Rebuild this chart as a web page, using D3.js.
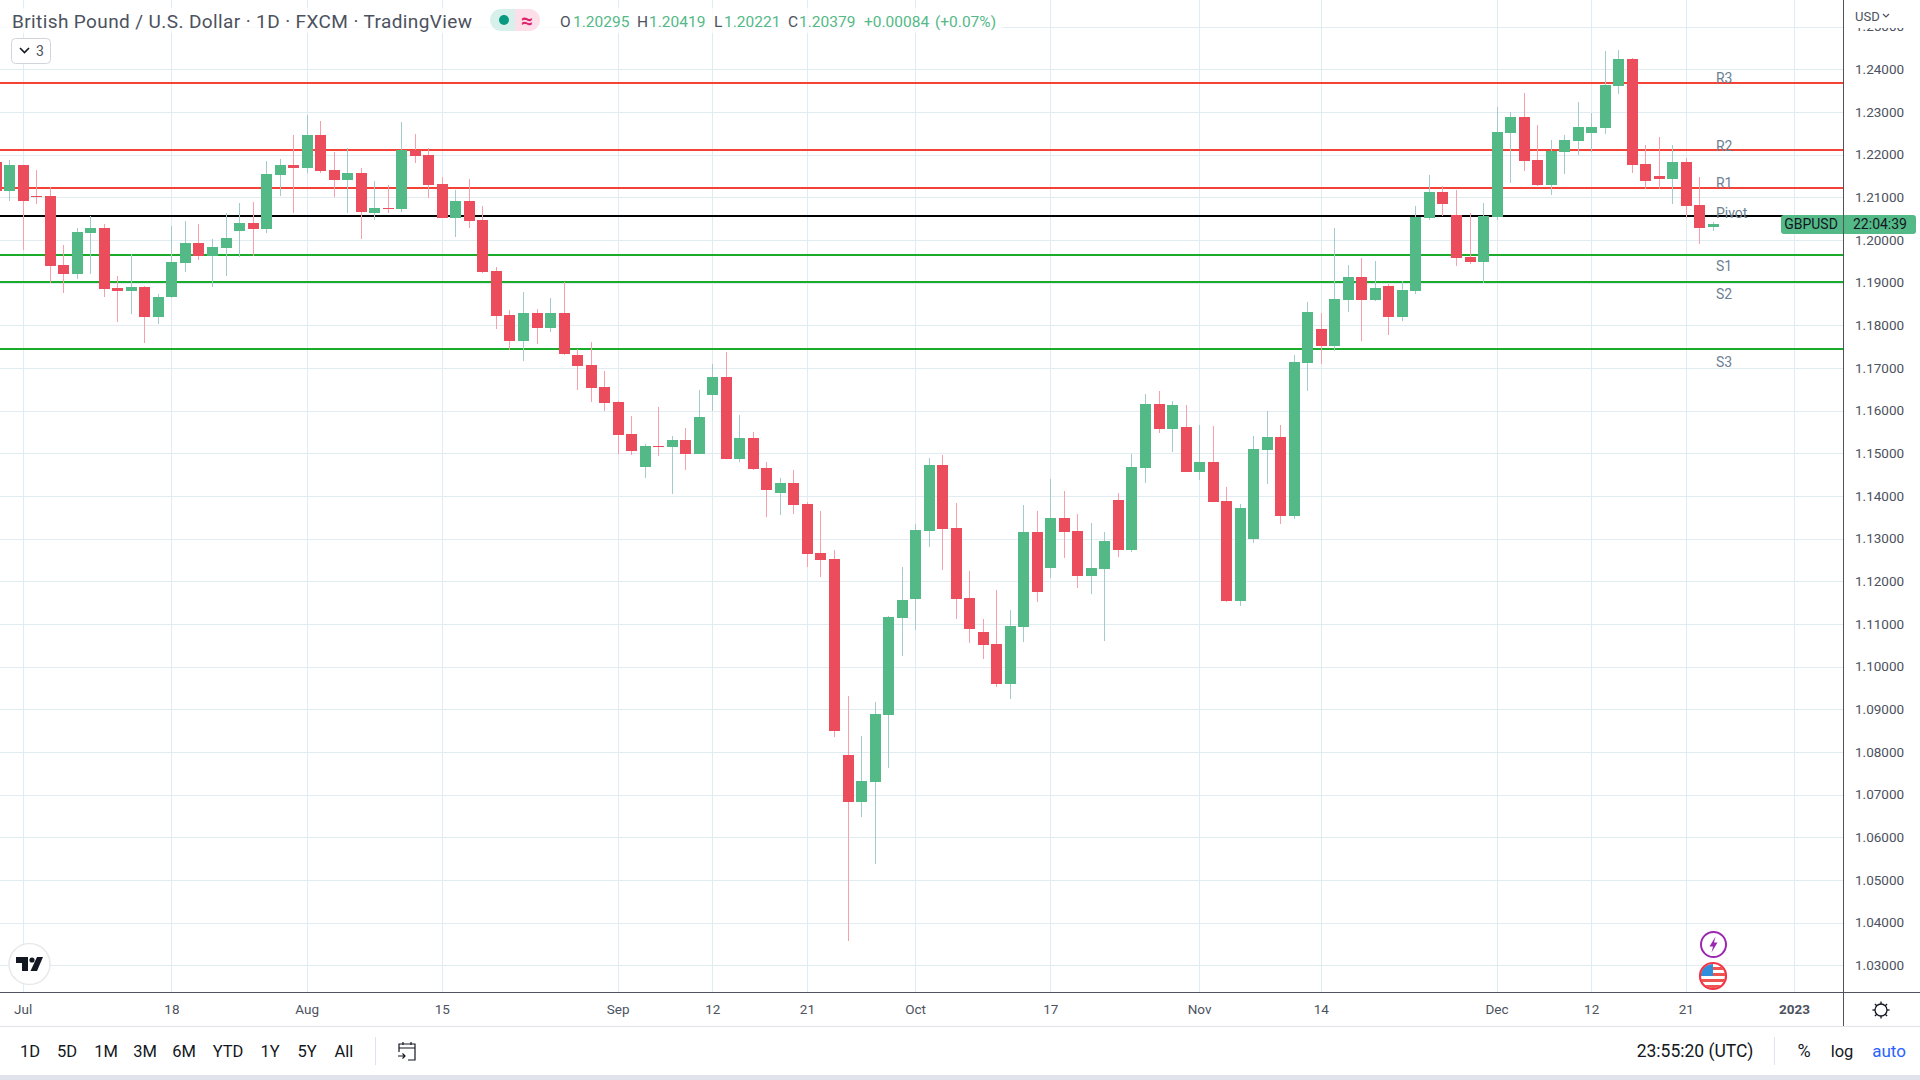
<!DOCTYPE html>
<html><head><meta charset="utf-8">
<script src="https://cdn.jsdelivr.net/npm/d3@7/dist/d3.min.js"></script>
<style>
html,body{margin:0;padding:0;background:#fff;overflow:hidden}
svg{display:block;font-family:Roboto,"Noto Sans",sans-serif}
</style></head><body>
<svg id="c" width="1920" height="1080"></svg>
<script>
// First candle is two sessions before the "Jul" tick; one candle per weekday.
const firstIndex = -2;
const opens = [1.2182,1.21156,1.21758,1.21023,1.21031,1.19414,1.19203,1.20164,1.20281,1.18875,
1.18805,1.18898,1.18195,1.18664,1.19461,1.1993,1.19625,1.19812,1.20211,1.20398,
1.20258,1.21523,1.21758,1.21687,1.22461,1.21641,1.21406,1.2157,1.20633,1.2075,
1.20727,1.22109,1.21992,1.21312,1.20516,1.20914,1.20469,1.19273,1.18242,1.17633,
1.18289,1.17937,1.18289,1.17305,1.1707,1.16555,1.16203,1.15453,1.1468,1.15172,
1.15148,1.15312,1.14984,1.16367,1.16789,1.14867,1.15359,1.14656,1.1407,1.14305,
1.13812,1.12664,1.12523,1.0793,1.06828,1.07297,1.08867,1.11141,1.11586,1.1318,
1.14727,1.1325,1.11609,1.10812,1.10531,1.09594,1.1093,1.13156,1.12312,1.13484,
1.1318,1.12125,1.12289,1.13906,1.12734,1.14656,1.16156,1.1557,1.15617,1.14562,
1.14797,1.13883,1.11539,1.12992,1.15078,1.15383,1.13531,1.17117,1.17914,1.17516,
1.18594,1.19133,1.18594,1.18922,1.18195,1.18805,1.20516,1.21125,1.20586,1.19602,
1.19484,1.20539,1.22508,1.22883,1.21875,1.21289,1.22062,1.2232,1.22508,1.22625,
1.23609,1.24242,1.21781,1.215,1.2143,1.21828,1.2082,1.20295];
const highs = [1.21914,1.21875,1.21758,1.21641,1.21242,1.19883,1.20273,1.20555,1.20375,1.19156,
1.19672,1.18922,1.18734,1.20328,1.20445,1.20375,1.20023,1.20633,1.20867,1.20891,
1.21852,1.21898,1.22461,1.2293,1.22789,1.22062,1.22156,1.21687,1.21383,1.21289,
1.22766,1.22484,1.22156,1.21477,1.21172,1.2143,1.20797,1.19367,1.18359,1.18781,
1.18383,1.18641,1.19016,1.17445,1.17609,1.1693,1.16227,1.15875,1.15219,1.16086,
1.15406,1.15594,1.16484,1.17094,1.17375,1.15898,1.155,1.14797,1.14422,1.14609,
1.13859,1.13648,1.12734,1.09312,1.08375,1.09172,1.11187,1.12336,1.13344,1.14891,
1.14961,1.13836,1.12242,1.11117,1.11797,1.11328,1.13789,1.13648,1.14398,1.14117,
1.13578,1.13367,1.13156,1.1407,1.14984,1.16391,1.16461,1.16227,1.16133,1.15664,
1.15641,1.14211,1.13812,1.15406,1.15992,1.15664,1.17305,1.18547,1.18289,1.20281,
1.19414,1.19578,1.19508,1.18969,1.19039,1.20797,1.21523,1.21266,1.21172,1.20633,
1.20867,1.23117,1.23,1.23445,1.22695,1.22344,1.22461,1.23234,1.22977,1.2443,
1.24453,1.24266,1.22227,1.22414,1.22227,1.21922,1.21477,1.20419];
const lows = [1.20938,1.20922,1.19773,1.20852,1.18992,1.18766,1.19094,1.19203,1.18672,1.18086,
1.18273,1.17594,1.18039,1.18633,1.1925,1.19531,1.18906,1.19156,1.19602,1.19625,
1.20164,1.21031,1.20633,1.2157,1.2157,1.21008,1.20633,1.20023,1.20469,1.20633,
1.20656,1.21805,1.20984,1.20516,1.2007,1.20281,1.19227,1.17914,1.17422,1.17164,
1.17562,1.17844,1.17305,1.16484,1.16203,1.15992,1.14984,1.14961,1.14422,1.14937,
1.14047,1.14609,1.14984,1.15992,1.14867,1.14797,1.14609,1.13508,1.13555,1.13578,
1.12336,1.12102,1.08352,1.03578,1.06477,1.05375,1.07625,1.1025,1.10859,1.12805,
1.12266,1.11117,1.10555,1.1018,1.09523,1.09242,1.10578,1.11516,1.12078,1.12547,
1.11844,1.11703,1.10602,1.1257,1.12687,1.14305,1.15477,1.15031,1.14562,1.14375,
1.13859,1.11516,1.11422,1.12898,1.14281,1.13344,1.13461,1.16461,1.17094,1.17398,
1.18312,1.17633,1.1857,1.17773,1.18102,1.18734,1.20469,1.20562,1.19391,1.19437,
1.18992,1.20469,1.21336,1.21617,1.21266,1.21055,1.21547,1.21992,1.22062,1.22484,
1.23422,1.2157,1.21195,1.21195,1.20844,1.20516,1.19906,1.20221];
const closes = [1.21156,1.21758,1.20914,1.21008,1.19398,1.19203,1.20187,1.20281,1.18852,1.18805,
1.18898,1.18195,1.18664,1.19484,1.1993,1.19625,1.19836,1.20047,1.20398,1.20258,
1.21547,1.21758,1.21687,1.22461,1.21617,1.21406,1.2157,1.20656,1.2075,1.20727,
1.22109,1.21969,1.21289,1.20516,1.20914,1.20445,1.1925,1.18219,1.17633,1.18289,
1.17937,1.18289,1.17328,1.17047,1.16531,1.1618,1.1543,1.15055,1.15172,1.15148,
1.15312,1.14984,1.15852,1.16789,1.14867,1.15359,1.14633,1.14141,1.14305,1.13789,
1.12641,1.125,1.08492,1.06828,1.0732,1.08891,1.11164,1.11562,1.13203,1.14727,
1.13227,1.11586,1.10883,1.10508,1.09594,1.10953,1.13156,1.1175,1.13484,1.13156,
1.12125,1.12312,1.12945,1.12734,1.1468,1.16156,1.1557,1.16133,1.14562,1.14797,
1.13859,1.11539,1.13719,1.15102,1.15383,1.13531,1.17141,1.18312,1.17516,1.18617,
1.19133,1.18594,1.18875,1.18195,1.18828,1.20539,1.21125,1.20844,1.19578,1.19484,
1.20562,1.22531,1.22883,1.21852,1.21289,1.22086,1.22344,1.22648,1.22648,1.23633,
1.24242,1.21758,1.21383,1.2143,1.21828,1.20797,1.20281,1.20379];

const priceTicks = [1.25,1.24,1.23,1.22,1.21,1.20,1.19,1.18,1.17,1.16,1.15,1.14,1.13,1.12,1.11,1.10,1.09,1.08,1.07,1.06,1.05,1.04,1.03];
const timeTickIndex = [0,11,21,31,44,51,58,66,76,87,96,109,116,123,131];
const timeTickLabels = ["Jul","18","Aug","15","Sep","12","21","Oct","17","Nov","14","Dec","12","21","2023"];
const levelNames = ["R3","R2","R1","Pivot","S1","S2","S3"];
const levelValues = [1.2368,1.22109,1.21219,1.20562,1.19648,1.19016,1.17445];
const rangeButtons = ["1D","5D","1M","3M","6M","YTD","1Y","5Y","All"];
const legendValues = ["1.20295","1.20419","1.20221","1.20379","+0.00084","(+0.07%)"];

// ---- layout / style
const W=1920, paneR=1843, paneB=992;
const UP="#53b987", DOWN="#eb4d5c", WUP="#a3cbcb", WDOWN="#f7a0ab", GRID="#e1ecf2", TXT="#4c525e", DARK="#131722";
const FS=13.5;
const levelColor=n=>n[0]==="R"?"#f44336":n[0]==="S"?"#1aab2b":"#000";
const levelLabelDy={R3:-5,R2:-4,R1:-5,Pivot:-3,S1:11,S2:12,S3:13};

const svg=d3.select("#c");
const x=d3.scaleLinear().domain([0,125]).range([22.7,1712.9]);
const y=d3.scaleLinear().domain([1.24,1.03]).range([69.3,965.3]);
const px=v=>Math.round(x(v)), py=v=>Math.round(y(v));

svg.append("defs").append("clipPath").attr("id","pane").append("rect")
  .attr("width",paneR).attr("height",paneB);
const pane=svg.append("g").attr("clip-path","url(#pane)");

// gridlines
pane.append("g").selectAll("line").data(timeTickIndex).join("line")
  .attr("x1",d=>px(d)+.5).attr("x2",d=>px(d)+.5).attr("y1",0).attr("y2",paneB)
  .attr("stroke",GRID);
pane.append("g").selectAll("line").data(priceTicks).join("line")
  .attr("x1",0).attr("x2",paneR).attr("y1",d=>py(d)+.5).attr("y2",d=>py(d)+.5)
  .attr("stroke",GRID);

// pivot levels
pane.append("g").selectAll("line").data(levelValues).join("line")
  .attr("x1",0).attr("x2",paneR).attr("y1",d=>py(d)).attr("y2",d=>py(d))
  .attr("stroke",(d,i)=>levelColor(levelNames[i])).attr("stroke-width",2)
  .attr("shape-rendering","crispEdges");

// candles
const candles=opens.map((o,i)=>({i:i+firstIndex,o,h:highs[i],l:lows[i],c:closes[i]}));
const cg=pane.append("g").attr("shape-rendering","crispEdges");
cg.selectAll("line").data(candles).join("line")
  .attr("x1",d=>px(d.i)+.5).attr("x2",d=>px(d.i)+.5)
  .attr("y1",d=>py(d.h)).attr("y2",d=>py(d.l))
  .attr("stroke",d=>d.c>=d.o?WUP:WDOWN);
cg.selectAll("rect").data(candles).join("rect")
  .attr("x",d=>px(d.i)-5).attr("width",11)
  .attr("y",d=>py(Math.max(d.o,d.c)))
  .attr("height",d=>Math.max(1,py(Math.min(d.o,d.c))-py(Math.max(d.o,d.c))))
  .attr("fill",d=>d.c>=d.o?UP:DOWN);

// level labels
pane.append("g").selectAll("text").data(levelNames).join("text")
  .attr("x",x(125)+3).attr("y",(d,i)=>y(levelValues[i])+levelLabelDy[d])
  .attr("dy",".35em").attr("fill","#6d7f93").attr("font-size",14).text(d=>d);

// ---- legend
svg.append("rect").attr("x",0).attr("y",8).attr("width",1003).attr("height",25).attr("fill","#fff").attr("opacity",.75);
svg.append("text").attr("x",12).attr("y",28).attr("font-size",19).attr("fill",TXT)
  .attr("textLength",460).attr("lengthAdjust","spacing")
  .text("British Pound / U.S. Dollar · 1D · FXCM · TradingView");
svg.append("path").attr("d","M501 9a11 11 0 0 0 0 22h14V9z").attr("fill","#d8f0ec");
svg.append("path").attr("d","M515 9h14a11 11 0 0 1 0 22h-14z").attr("fill","#fcdfe8");
svg.append("circle").attr("cx",504).attr("cy",20).attr("r",5).attr("fill","#089981");
svg.append("text").attr("x",527).attr("y",20).attr("dy",".36em").attr("text-anchor","middle").attr("font-size",21).attr("font-weight",700).attr("fill","#e0246b").text("≈");
const legLetters=["O","H","L","C",null,null];
const legLetterX=[560,637,714,788];
const legValX=[573,649,724,799,864,935];
legendValues.forEach((v,i)=>{
  if(legLetters[i]) svg.append("text").attr("x",legLetterX[i]).attr("y",27).attr("font-size",15.5).attr("fill",TXT).text(legLetters[i]);
  svg.append("text").attr("x",legValX[i]).attr("y",27).attr("font-size",15.5).attr("fill",UP).text(v);
});
// collapse button
svg.append("rect").attr("x",11.5).attr("y",38.5).attr("width",39).attr("height",25).attr("rx",4).attr("fill","#fff").attr("stroke","#d1d4dc");
svg.append("path").attr("d","M20 48l4.5 4.5 4.5-4.5").attr("fill","none").attr("stroke",DARK).attr("stroke-width",1.6);
svg.append("text").attr("x",40).attr("y",51).attr("dy",".35em").attr("text-anchor","middle").attr("font-size",14).attr("fill",TXT).text("3");

// ---- price scale
svg.append("rect").attr("x",paneR).attr("y",0).attr("width",W-paneR).attr("height",1026).attr("fill","#fff");
const pAxis=svg.append("g").attr("transform",`translate(${paneR},0)`)
  .call(d3.axisRight(y).tickValues(priceTicks).tickFormat(d3.format(".5f")).tickSize(0).tickPadding(12));
pAxis.select(".domain").remove();
pAxis.selectAll("text").attr("font-family","Roboto").attr("font-size",FS).attr("fill",TXT);
svg.append("rect").attr("x",paneR).attr("y",0).attr("width",W-paneR).attr("height",28).attr("fill","#fff");
svg.append("text").attr("x",1855).attr("y",16).attr("dy",".35em").attr("font-size",13).attr("fill",TXT).text("USD");
svg.append("path").attr("d","M1883 14l3 3 3-3").attr("fill","none").attr("stroke",TXT).attr("stroke-width",1.2);

// time axis
svg.append("rect").attr("x",0).attr("y",paneB).attr("width",W).attr("height",34).attr("fill","#fff");
const tAxis=svg.append("g").attr("transform",`translate(0,${paneB})`)
  .call(d3.axisBottom(x).tickValues(timeTickIndex).tickFormat((d,i)=>timeTickLabels[i]).tickSize(0).tickPadding(12));
tAxis.select(".domain").remove();
tAxis.selectAll("text").attr("font-family","Roboto").attr("font-size",FS).attr("fill",TXT)
  .attr("font-weight",d=>d===131?700:400);

// borders
const bg=svg.append("g").attr("shape-rendering","crispEdges");
bg.append("line").attr("x1",0).attr("x2",W).attr("y1",992.5).attr("y2",992.5).attr("stroke","#50535e");
bg.append("line").attr("x1",paneR+.5).attr("x2",paneR+.5).attr("y1",0).attr("y2",1026).attr("stroke","#50535e");
bg.append("line").attr("x1",0).attr("x2",W).attr("y1",1026.5).attr("y2",1026.5).attr("stroke","#e0e3eb");
bg.append("rect").attr("x",0).attr("y",1075).attr("width",W).attr("height",5).attr("fill","#e0e3eb");
bg.append("line").attr("x1",375.5).attr("x2",375.5).attr("y1",1037).attr("y2",1065).attr("stroke","#e0e3eb");
bg.append("line").attr("x1",1774.5).attr("x2",1774.5).attr("y1",1037).attr("y2",1065).attr("stroke","#e0e3eb");

// last price tags
const lastY=y(closes[closes.length-1])+.7;
svg.append("path").attr("d",`M1843 ${lastY-9.5}H1784a3 3 0 0 0 -3 3V${lastY+6.5}a3 3 0 0 0 3 3H1843z`).attr("fill",UP);
svg.append("path").attr("d",`M1844 ${lastY-9.5}H1913a3 3 0 0 1 3 3V${lastY+6.5}a3 3 0 0 1 -3 3H1844z`).attr("fill",UP);
svg.append("text").attr("x",1811).attr("y",lastY).attr("dy",".35em").attr("text-anchor","middle").attr("font-size",14).attr("fill",DARK).text("GBPUSD");
svg.append("text").attr("x",1880).attr("y",lastY).attr("dy",".35em").attr("text-anchor","middle").attr("font-size",14).attr("fill",DARK).text("22:04:39");

// settings gear
const gear=svg.append("g").attr("transform","translate(1881,1010)").attr("fill","none").attr("stroke",DARK).attr("stroke-width",1.3);
gear.append("circle").attr("r",6);
[0,45,90,135,180,225,270,315].forEach(a=>{
  const r=a*Math.PI/180;
  gear.append("line").attr("x1",6*Math.cos(r)).attr("y1",6*Math.sin(r)).attr("x2",8.6*Math.cos(r)).attr("y2",8.6*Math.sin(r));
});

// ---- bottom toolbar
const btnX=[30,67,106,145,184,228,270,307,344];
svg.append("g").selectAll("text").data(rangeButtons).join("text")
  .attr("x",(d,i)=>btnX[i]).attr("y",1051).attr("dy",".35em").attr("text-anchor","middle")
  .attr("font-size",16.5).attr("fill",DARK).text(d=>d);
const cal=svg.append("g").attr("transform","translate(397,1041)").attr("fill","none").attr("stroke",DARK).attr("stroke-width",1.2);
cal.append("path").attr("d","M2 11V3h16v16h-7M2 7h16M6 1v3M14 1v3M1 15h7m-2.5-2.5L8 15l-2.5 2.5");
svg.append("text").attr("x",1695).attr("y",1051).attr("dy",".35em").attr("text-anchor","middle").attr("font-size",17.5).attr("fill",DARK).text("23:55:20 (UTC)");
svg.append("text").attr("x",1804).attr("y",1051).attr("dy",".35em").attr("text-anchor","middle").attr("font-size",18).attr("fill",DARK).text("%");
svg.append("text").attr("x",1842).attr("y",1051).attr("dy",".35em").attr("text-anchor","middle").attr("font-size",16.5).attr("fill",DARK).text("log");
svg.append("text").attr("x",1889).attr("y",1051).attr("dy",".35em").attr("text-anchor","middle").attr("font-size",17).attr("fill","#2962ff").text("auto");

// ---- TV logo
svg.append("circle").attr("cx",29.5).attr("cy",964).attr("r",20.5).attr("fill","#fff").attr("stroke","#e9e9e9").attr("stroke-width",1.5);
const tv=svg.append("g").attr("transform","translate(16,957)").attr("fill",DARK);
tv.append("path").attr("d","M0 0H12V14H6V6H0Z");
tv.append("circle").attr("cx",16).attr("cy",3).attr("r",2.6);
tv.append("path").attr("d","M21 0H27L21 14H14.5Z");

// ---- event markers
const ev=svg.append("g").attr("transform","translate(1713.5,944.5)");
ev.append("circle").attr("r",12.5).attr("fill","#fff").attr("stroke","#9c27b0").attr("stroke-width",2);
ev.append("path").attr("d","M2-8L-4 2H-.5L-2 8L4-2H.5Z").attr("fill","#9c27b0");
const fl=svg.append("g").attr("transform","translate(1713,976)");
fl.append("clipPath").attr("id","flag").append("circle").attr("r",12);
const ff=fl.append("g").attr("clip-path","url(#flag)");
ff.append("rect").attr("x",-12).attr("y",-12).attr("width",24).attr("height",24).attr("fill","#fff");
[-9,-3,3,9].forEach(s=>ff.append("rect").attr("x",-12).attr("y",s).attr("width",24).attr("height",3).attr("fill","#ef5350"));
ff.append("rect").attr("x",-12).attr("y",-12).attr("width",12).attr("height",12).attr("fill","#2f8fdb");
fl.append("circle").attr("r",13).attr("fill","none").attr("stroke","#f23645").attr("stroke-width",2.2);
</script>
</body></html>
